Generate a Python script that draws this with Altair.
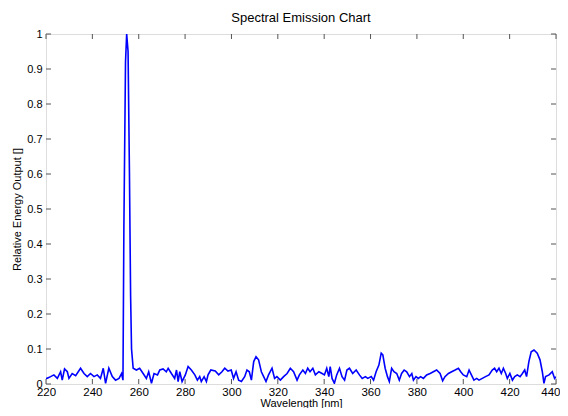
import altair as alt
import pandas as pd

wavelength = [220.0, 221.0, 222.0, 223.4, 224.9, 226.3, 227.0, 228.0, 229.2, 229.9, 231.3, 232.8, 234.9,
              236.4, 237.8, 239.2, 240.7, 242.1, 243.5, 244.7, 245.7, 247.1, 248.6, 250.0, 251.5, 252.6,
              253.2, 253.6, 254.3, 254.8, 255.4, 256.0, 256.5, 256.9, 257.6, 259.0, 260.4, 261.9, 263.3,
              264.3, 265.5, 266.6, 268.1, 269.1, 270.5, 271.9, 272.7, 274.1, 275.5, 276.3, 277.0, 277.7,
              278.7, 280.1, 281.3, 282.7, 284.2, 285.3, 286.3, 287.0, 288.2, 289.2, 289.9, 291.1, 293.0,
              294.5, 295.9, 297.1, 298.5, 299.9, 300.9, 302.0, 303.1, 304.3, 305.7, 306.7, 307.7, 308.6,
              309.6, 310.6, 311.7, 312.9, 313.9, 314.9, 316.0, 317.5, 318.6, 319.6, 321.1, 322.5, 324.0,
              325.4, 326.8, 328.3, 329.3, 330.8, 331.9, 332.9, 333.9, 335.1, 336.2, 337.7, 339.1, 340.1,
              341.1, 342.0, 342.6, 343.4, 344.4, 345.4, 346.6, 347.7, 348.8, 349.8, 350.9, 352.3, 353.8,
              355.2, 356.4, 357.8, 358.8, 360.3, 361.3, 362.4, 363.6, 364.6, 365.3, 366.3, 367.3, 368.1,
              369.1, 370.1, 371.3, 372.4, 373.4, 374.5, 375.6, 376.8, 377.8, 378.5, 379.6, 380.6, 381.6,
              382.8, 384.2, 385.7, 387.1, 388.5, 390.0, 391.1, 392.1, 393.6, 395.0, 396.5, 397.9, 398.9,
              400.0, 401.5, 402.5, 403.5, 404.6, 405.8, 406.8, 408.2, 409.6, 411.1, 412.5, 413.5, 414.4,
              415.4, 416.4, 417.3, 418.3, 419.0, 420.1, 421.2, 422.2, 423.3, 424.5, 425.5, 426.5, 427.3,
              428.3, 429.3, 430.5, 431.9, 433.1, 434.1, 434.8, 435.5, 437.0, 438.4, 439.4, 440.0]
energy = [0.015, 0.018, 0.021, 0.026, 0.016, 0.035, 0.011, 0.043, 0.035, 0.016, 0.030, 0.024, 0.045,
          0.030, 0.021, 0.030, 0.021, 0.026, 0.016, 0.045, 0.002, 0.045, 0.021, 0.011, 0.016, 0.030,
          0.011, 0.45, 0.92, 1.0, 0.95, 0.60, 0.25, 0.10, 0.045, 0.040, 0.045, 0.030, 0.016,
          0.035, 0.002, 0.030, 0.026, 0.040, 0.043, 0.035, 0.045, 0.030, 0.016, 0.040, 0.007, 0.035,
          0.007, 0.026, 0.050, 0.040, 0.026, 0.011, 0.021, 0.007, 0.021, 0.007, 0.026, 0.040, 0.037,
          0.026, 0.035, 0.045, 0.037, 0.040, 0.016, 0.035, 0.011, 0.007, 0.021, 0.040, 0.035, 0.011,
          0.064, 0.078, 0.069, 0.035, 0.021, 0.007, 0.026, 0.045, 0.016, 0.021, 0.011, 0.021, 0.030,
          0.045, 0.035, 0.011, 0.026, 0.040, 0.030, 0.045, 0.035, 0.045, 0.026, 0.035, 0.030, 0.026,
          0.045, 0.021, 0.050, 0.016, 0.002, 0.026, 0.045, 0.021, 0.011, 0.040, 0.045, 0.030, 0.040,
          0.026, 0.016, 0.021, 0.016, 0.021, 0.011, 0.035, 0.054, 0.088, 0.083, 0.045, 0.021, 0.007,
          0.045, 0.035, 0.030, 0.011, 0.030, 0.040, 0.035, 0.021, 0.030, 0.011, 0.021, 0.016, 0.021,
          0.016, 0.026, 0.030, 0.035, 0.040, 0.030, 0.009, 0.021, 0.030, 0.035, 0.040, 0.045, 0.035,
          0.026, 0.021, 0.040, 0.026, 0.011, 0.016, 0.011, 0.016, 0.021, 0.026, 0.040, 0.045, 0.035,
          0.045, 0.030, 0.045, 0.030, 0.016, 0.030, 0.011, 0.021, 0.026, 0.021, 0.030, 0.040, 0.021,
          0.064, 0.092, 0.097, 0.088, 0.069, 0.035, 0.002, 0.021, 0.026, 0.035, 0.016, 0.021]

x_ticks = [220, 240, 260, 280, 300, 320, 340, 360, 380, 400, 420, 440]
y_ticks = [0, 0.1, 0.2, 0.3, 0.4, 0.5, 0.6, 0.7, 0.8, 0.9, 1]

W, H = 510, 350
FONT = "Liberation Sans"
TICK_COLOR = "#555555"

df = pd.DataFrame({"wl": wavelength, "e": energy})
xt = pd.DataFrame({"t": x_ticks})
yt = pd.DataFrame({"t": y_ticks})

xscale = alt.Scale(domain=[220, 440], nice=False, zero=False)
yscale = alt.Scale(domain=[0, 1], nice=False)

last_x = x_ticks[-1]
x_axis = alt.Axis(values=x_ticks, title="Wavelength [nm]", tickSize=0, domain=False,
                  grid=False, labelPadding=2, labelFontSize=11.5, labelColor="black",
                  labelFont=FONT, titleFont=FONT, titleFontSize=11,
                  titleFontWeight="normal", titleColor="black",
                  titleY=24, titleBaseline="bottom",
                  labelFlush=False, labelOverlap=False,
                  labelAlign=alt.condition(f"datum.value == {last_x}", alt.value("right"), alt.value("center")),
                  labelOffset=alt.condition(f"datum.value == {last_x}", alt.value(4), alt.value(0)))
y_axis = alt.Axis(values=y_ticks, title="Relative Energy Output []", format="~g",
                  tickSize=0, domain=False, grid=False, labelPadding=4,
                  labelFontSize=11, labelColor="black", labelFont=FONT,
                  titleFont=FONT, titleFontSize=11, titleFontWeight="normal",
                  titleColor="black", titlePadding=4, labelFlush=False,
                  labelOverlap=False)

line = alt.Chart(df).mark_line(color="#0000ff", strokeWidth=1.6, clip=True).encode(
    x=alt.X("wl:Q", scale=xscale, axis=x_axis),
    y=alt.Y("e:Q", scale=yscale, axis=y_axis),
)

xb = alt.Chart(xt).mark_rule(color=TICK_COLOR, strokeWidth=1).encode(
    x=alt.X("t:Q", scale=xscale, axis=x_axis), y=alt.value(H), y2=alt.value(H - 5))
xtop = alt.Chart(xt).mark_rule(color=TICK_COLOR, strokeWidth=1).encode(
    x=alt.X("t:Q", scale=xscale, axis=x_axis), y=alt.value(0), y2=alt.value(5))
yl = alt.Chart(yt).mark_rule(color=TICK_COLOR, strokeWidth=1).encode(
    y=alt.Y("t:Q", scale=yscale, axis=y_axis), x=alt.value(0), x2=alt.value(5))
yr = alt.Chart(yt).mark_rule(color=TICK_COLOR, strokeWidth=1).encode(
    y=alt.Y("t:Q", scale=yscale, axis=y_axis), x=alt.value(W), x2=alt.value(W - 5))

chart = alt.layer(line, xb, xtop, yl, yr).properties(
    width=W, height=H,
    title=alt.TitleParams("Spectral Emission Chart", font=FONT, fontSize=13,
                          fontWeight="normal", color="black", anchor="middle", offset=3),
    autosize=alt.AutoSizeParams(type="none"),
    padding={"left": 38, "top": 26, "right": 4, "bottom": 24},
).configure_view(stroke="#555555", strokeWidth=1).configure(background="white")

chart.save("out.html", embed_options={"renderer": "svg", "actions": False})
